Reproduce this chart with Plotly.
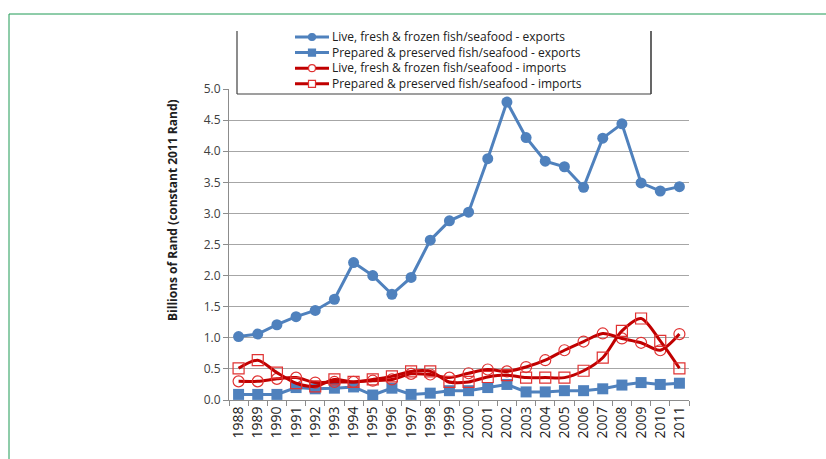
import plotly.graph_objects as go

years = [str(y) for y in range(1988, 2012)]

live_exports = [1.02, 1.06, 1.21, 1.34, 1.44, 1.62, 2.21, 2.00, 1.70, 1.97, 2.57, 2.88,
                3.02, 3.88, 4.79, 4.22, 3.84, 3.75, 3.42, 4.21, 4.44, 3.49, 3.36, 3.43]
prep_exports = [0.09, 0.09, 0.09, 0.20, 0.18, 0.19, 0.21, 0.08, 0.19, 0.09, 0.11, 0.15,
                0.15, 0.20, 0.25, 0.13, 0.13, 0.15, 0.15, 0.18, 0.24, 0.28, 0.25, 0.27]
live_imports = [0.30, 0.30, 0.34, 0.36, 0.28, 0.29, 0.29, 0.31, 0.33, 0.42, 0.41, 0.36,
                0.43, 0.49, 0.46, 0.53, 0.64, 0.80, 0.94, 1.07, 0.99, 0.92, 0.80, 1.06]
prep_imports = [0.51, 0.64, 0.44, 0.27, 0.22, 0.33, 0.29, 0.33, 0.38, 0.46, 0.46, 0.29,
                0.29, 0.37, 0.40, 0.36, 0.36, 0.36, 0.47, 0.68, 1.11, 1.31, 0.95, 0.51]

names = ["Live, fresh & frozen fish/seafood - exports",
         "Prepared & preserved fish/seafood - exports",
         "Live, fresh & frozen fish/seafood - imports",
         "Prepared & preserved fish/seafood - imports"]

y_ticks = [0, 0.5, 1.0, 1.5, 2.0, 2.5, 3.0, 3.5, 4.0, 4.5, 5.0]

BLUE = "#4F81BD"
RED = "#C00000"
RED_MK = "#E03232"
FONT = "Open Sans"
GREEN = "#1F9A55"

series = [
    (live_exports, "circle", BLUE, BLUE, None),
    (prep_exports, "square", BLUE, BLUE, None),
    (live_imports, "circle-open", RED, RED_MK, "spline"),
    (prep_imports, "square-open", RED, RED_MK, "spline"),
]

fig = go.Figure()
for (vals, sym, lc, mc, shp), nm in zip(series, names):
    line = dict(color=lc, width=3)
    if shp:
        line.update(shape=shp, smoothing=0.8)
    mk = dict(symbol=sym, size=11, color=mc)
    if sym.endswith("open"):
        mk["line"] = dict(width=1.2, color=mc)
    fig.add_trace(go.Scatter(x=years, y=vals, name=nm, mode="lines+markers",
                             line=line, marker=mk, showlegend=False))

# plot area: x 229..689, y 89..400 (px)
L, R, T, B = 229, 826 - 689, 89, 459 - 400
W, H = 826 - L - R, 459 - T - B


def px(xp):
    return (xp - L) / W


def py(yp):
    return (400 - yp) / H


shapes = [
    # legend box (white, top clipped)
    dict(type="rect", xref="paper", yref="paper", x0=px(237), x1=px(651), y0=py(94), y1=py(31),
         fillcolor="white", line=dict(width=0), layer="above"),
    dict(type="line", xref="paper", yref="paper", x0=px(237), x1=px(237), y0=py(94), y1=py(31),
         line=dict(color="#404040", width=1.2), layer="above"),
    dict(type="line", xref="paper", yref="paper", x0=px(651), x1=px(651), y0=py(94), y1=py(31),
         line=dict(color="#404040", width=1.6), layer="above"),
    dict(type="line", xref="paper", yref="paper", x0=px(237), x1=px(651), y0=py(94), y1=py(94),
         line=dict(color="#404040", width=1.2), layer="above"),
    # green outer frame
    dict(type="line", xref="paper", yref="paper", x0=px(9), x1=px(830), y0=py(14), y1=py(14),
         line=dict(color=GREEN, width=1), layer="above"),
    dict(type="line", xref="paper", yref="paper", x0=px(9), x1=px(9), y0=py(14), y1=py(470),
         line=dict(color=GREEN, width=1), layer="above"),
]

annotations = [dict(text="<b>Billions of Rand (constant 2011 Rand)</b>", textangle=-90,
                    xref="paper", yref="paper", x=px(172), y=py(210),
                    xanchor="center", yanchor="middle",
                    showarrow=False, font=dict(family=FONT, size=12, color="#202020"))]

# custom legend (compact row spacing like the original)
LH = 15.6
row_y = [37 + i * LH for i in range(4)]
ms = 3.5
for (vals, sym, lc, mc, shp), ry in zip(series, row_y):
    shapes.append(dict(type="line", xref="paper", yref="paper", x0=px(295), x1=px(329),
                       y0=py(ry), y1=py(ry), line=dict(color=lc, width=3), layer="above"))
    kind = "circle" if sym.startswith("circle") else "rect"
    filled = not sym.endswith("open")
    shapes.append(dict(type=kind, xref="paper", yref="paper",
                       x0=px(312 - ms), x1=px(312 + ms), y0=py(ry + ms), y1=py(ry - ms),
                       fillcolor=mc if filled else "white",
                       line=dict(color=mc, width=1.2), layer="above"))
annotations.append(dict(text="<br>".join(names), xref="paper", yref="paper",
                        x=px(330), y=py((row_y[0] + row_y[-1]) / 2),
                        xanchor="left", yanchor="middle", align="left", showarrow=False,
                        font=dict(family=FONT, size=12, color="#202020")))

fig.update_layout(
    width=826, height=459,
    margin=dict(l=L, r=R, t=T, b=B, autoexpand=False),
    paper_bgcolor="white", plot_bgcolor="white",
    font=dict(family=FONT, color="#404040"),
    showlegend=False,
    shapes=shapes,
    annotations=annotations,
)

fig.update_xaxes(type="category", categoryorder="array", categoryarray=years,
                 showline=True, linecolor="#8C8C8C", linewidth=1,
                 ticks="outside", tickson="boundaries", ticklen=5, tickcolor="#8C8C8C",
                 tickangle=-90, tickfont=dict(family=FONT, size=14, color="#202020"),
                 showgrid=False, range=[-0.5, len(years) - 0.5])
fig.update_yaxes(range=[0, 5.0], tickvals=y_ticks,
                 ticktext=[f"{v:.1f}" for v in y_ticks],
                 showline=True, linecolor="#8C8C8C", linewidth=1,
                 ticks="outside", ticklen=5, tickcolor="#8C8C8C",
                 tickfont=dict(family=FONT, size=12, color="#404040"),
                 showgrid=True, gridcolor="#A6A6A6", gridwidth=1, zeroline=False)

fig.write_html("out.html", post_script="document.body.style.margin='0';",
               config={"displayModeBar": False})
